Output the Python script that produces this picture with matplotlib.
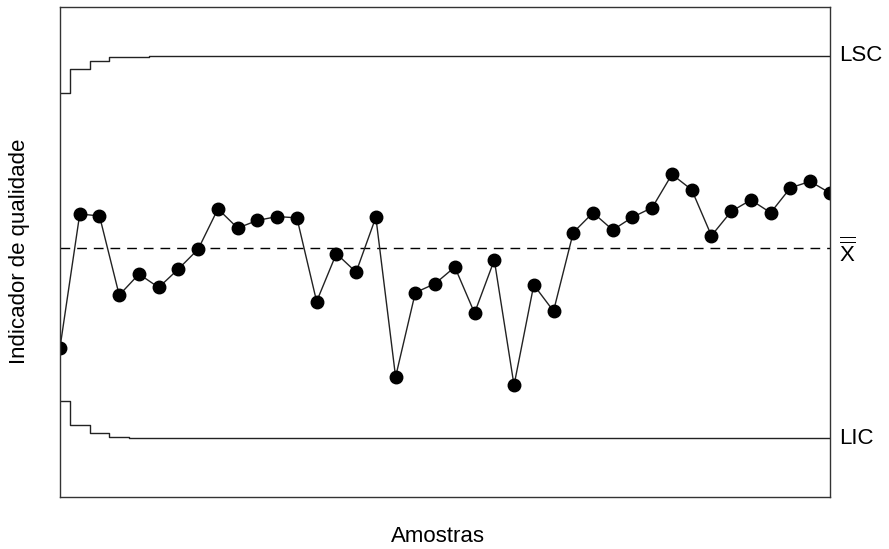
import matplotlib.pyplot as plt
import numpy as np

plt.rcParams['font.family'] = ['Liberation Sans', 'DejaVu Sans']
plt.rcParams['mathtext.fontset'] = 'custom'
plt.rcParams['mathtext.rm'] = 'Liberation Sans'

# EWMA statistic per sample
amostras = np.arange(40)
valores = [-1.56, 0.53, 0.50, -0.74, -0.41, -0.62, -0.33, -0.02, 0.61, 0.31,
           0.43, 0.49, 0.47, -0.84, -0.09, -0.38, 0.48, -2.02, -0.70, -0.56,
           -0.30, -1.02, -0.19, -2.15, -0.58, -0.99, 0.24, 0.55, 0.28, 0.48,
           0.63, 1.15, 0.91, 0.19, 0.57, 0.75, 0.55, 0.94, 1.04, 0.86]
centro = 0.0
lsc = [2.43, 2.80, 2.93, 2.98, 2.99] + [3.01] * 35
lic = [-2.40, -2.77, -2.90, -2.96, -2.98] + [-2.98] * 35

fig = plt.figure(figsize=(8.89, 5.49), dpi=100)
ax = fig.add_axes([0.0675, 0.0947, 0.866, 0.8925])

ax.step(amostras, lsc, where='mid', color='#222222', lw=1.0)
ax.step(amostras, lic, where='mid', color='#222222', lw=1.0)
ax.axhline(centro, color='black', lw=1.0, dashes=(7, 5))
ax.plot(amostras, valores, color='#222222', lw=1.0, marker='o',
        markersize=9, markerfacecolor='black', markeredgecolor='black')

ax.set_xlim(0, 39)
ax.set_ylim(-3.90, 3.77)
ax.set_xticks([])
ax.set_yticks([])
for s in ax.spines.values():
    s.set_color('#333333')
    s.set_linewidth(1.0)

tr = ax.get_yaxis_transform()
ax.text(1.012, lsc[-1], 'LSC', transform=tr, va='center', ha='left', fontsize=16)
ax.text(1.012, lic[-1], 'LIC', transform=tr, va='center', ha='left', fontsize=16)
ax.text(1.012, centro - 0.07, r'$\overline{\overline{\mathrm{X}}}$',
        transform=tr, va='center', ha='left', fontsize=16)

fig.text(437.5 / 889, 1 - 536 / 549, 'Amostras', ha='center', va='center', fontsize=16)
fig.text(20 / 889, 1 - 251 / 549, 'Indicador de qualidade', ha='center', va='center',
         rotation=90, fontsize=16)

fig.savefig('out.png', dpi=100)
